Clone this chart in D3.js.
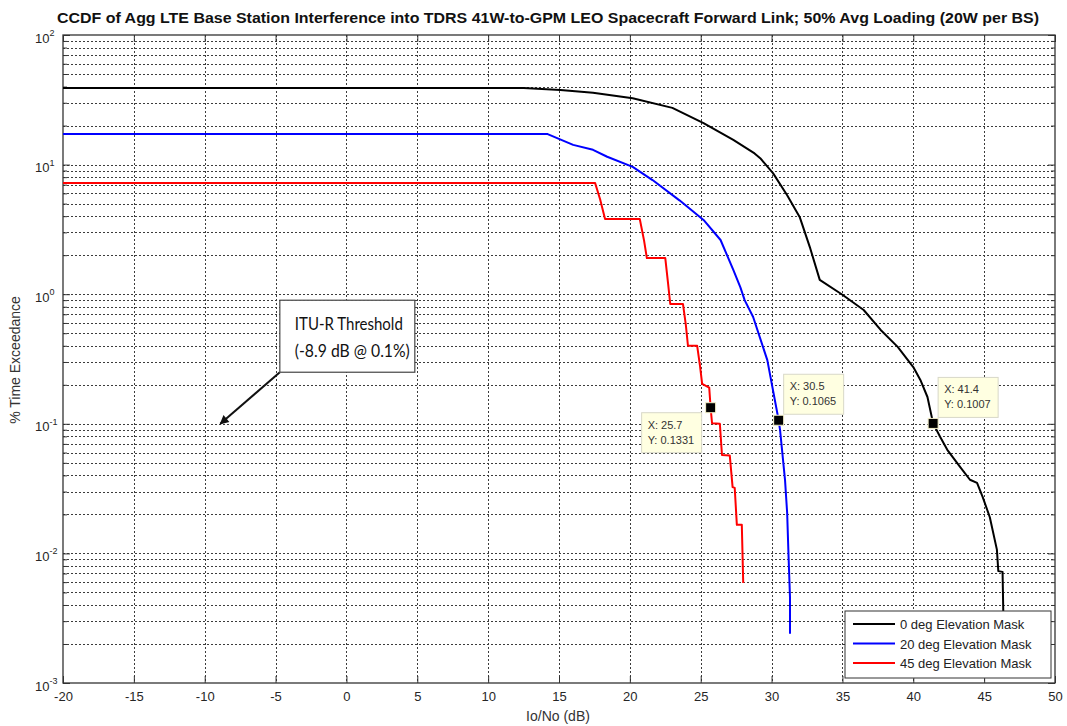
<!DOCTYPE html>
<html>
<head>
<meta charset="utf-8">
<script src="https://cdn.jsdelivr.net/npm/d3@7"></script>
<style>
  body { margin: 0; background: #fff; }
  text { font-family: "Liberation Sans", Arial, sans-serif; }
</style>
</head>
<body>
<svg id="chart" width="1067" height="726"></svg>
<script>
// --- data
const title = "CCDF of Agg LTE Base Station Interference into TDRS 41W-to-GPM LEO Spacecraft Forward Link; 50% Avg Loading (20W per BS)"
const xLabel = "Io/No (dB)"
const yLabel = "% Time Exceedance"
const xTicks = [-20, -15, -10, -5, 0, 5, 10, 15, 20, 25, 30, 35, 40, 45, 50]
const yDecades = [1e-3, 1e-2, 1e-1, 1, 10, 100]
const seriesNames = ["0 deg Elevation Mask", "20 deg Elevation Mask", "45 deg Elevation Mask"]
const seriesColors = ["#000000", "#0000ff", "#ff0000"]

const mask0 = [
  [-20, 39], [12.5, 39], [15.1, 37.7], [17.4, 35.9], [20.2, 32.5], [23.0, 27.4],
  [25.2, 20.9], [27.3, 15.5], [28.8, 12.2], [29.2, 11.2], [30.1, 8.6], [31.1, 5.8],
  [32.0, 3.9], [32.7, 2.31], [33.4, 1.29], [35.0, 0.99], [36.5, 0.755], [37.7, 0.53],
  [38.9, 0.392], [40.0, 0.274], [40.5, 0.218], [41.0, 0.161], [41.4, 0.1007],
  [41.9, 0.079], [42.4, 0.063], [43.3, 0.0465], [44.0, 0.037], [44.5, 0.035],
  [44.9, 0.0272], [45.4, 0.019], [45.9, 0.0107], [46.0, 0.0073], [46.3, 0.0072],
  [46.35, 0.0036], [46.4, 0.0025]
]
const mask20 = [
  [-20, 17.2], [14.2, 17.2], [16.0, 14.2], [17.4, 13.0], [18.4, 11.5], [20.2, 9.6],
  [21.6, 7.6], [23.5, 5.3], [25.2, 3.74], [26.4, 2.62], [27.3, 1.54], [27.8, 1.13],
  [28.1, 0.9], [28.7, 0.667], [29.7, 0.31], [30.5, 0.1065], [30.6, 0.0895],
  [30.95, 0.0368], [31.1, 0.0205], [31.2, 0.0094], [31.3, 0.0046], [31.3, 0.0024]
]
const mask45 = [
  [-20, 7.2], [17.55, 7.2], [17.9, 5.4], [18.25, 3.8], [20.7, 3.8], [21.0, 2.6],
  [21.2, 1.9], [22.5, 1.9], [22.7, 1.2], [22.85, 0.84], [23.75, 0.84], [23.95, 0.58],
  [24.1, 0.4], [24.75, 0.4], [24.95, 0.28], [25.1, 0.203], [25.6, 0.19], [25.7, 0.1331],
  [25.8, 0.101], [26.35, 0.1], [26.5, 0.0575], [27.05, 0.057], [27.25, 0.0325],
  [27.4, 0.032], [27.55, 0.0166], [27.9, 0.0166], [28.0, 0.0059]
]
const seriesData = [mask0, mask20, mask45]

// data tips (x, y) shown on the curves
const tipPoints = [[25.7, 0.1331], [30.5, 0.1065], [41.4, 0.1007]]

// ITU-R annotation: arrow tip and box corner in data units
const ituText = ["ITU-R Threshold", "(-8.9 dB @ 0.1%)"]
const ituTip = [-8.9, 0.1]
const ituBox = [-4.7, 0.25]

// --- layout
const plotLeft = 63, plotRight = 1055, plotTop = 35, plotBottom = 683

const svg = d3.select("#chart")

const x = d3.scaleLinear().domain([-20, 50]).range([plotLeft, plotRight])
const y = d3.scaleLog().domain([1e-3, 1e2]).range([plotBottom, plotTop])

// minor log values 2..9 in each decade
const yMinor = []
yDecades.slice(0, -1).forEach(d => {
  for (let k = 2; k <= 9; k++) yMinor.push(d * k)
})

// grid
const grid = svg.append("g").attr("stroke", "#3c3c3c").attr("stroke-width", 1)
  .attr("stroke-dasharray", "2,2")
grid.selectAll(".gx").data(xTicks.slice(1, -1)).enter().append("line")
  .attr("x1", d => Math.round(x(d)) + 0.5).attr("x2", d => Math.round(x(d)) + 0.5)
  .attr("y1", plotTop).attr("y2", plotBottom)
grid.selectAll(".gy").data(yDecades.slice(1, -1).concat(yMinor)).enter().append("line")
  .attr("x1", plotLeft).attr("x2", plotRight)
  .attr("y1", d => Math.round(y(d)) + 0.5).attr("y2", d => Math.round(y(d)) + 0.5)

// axes (ticks inward, like a boxed MATLAB plot)
const tickColor = "#262626"
function styleAxis(g) {
  g.select(".domain").remove()
  g.selectAll("line").attr("stroke", "#333")
  g.selectAll("text").attr("fill", tickColor).attr("font-size", "13px")
}

svg.append("g").attr("transform", `translate(0,${plotBottom})`)
  .call(d3.axisBottom(x).tickValues(xTicks).tickSize(-7).tickPadding(9).tickFormat(d => String(d)))
  .call(styleAxis)
svg.append("g").attr("transform", `translate(0,${plotTop})`)
  .call(d3.axisTop(x).tickValues(xTicks).tickSize(-7).tickFormat(""))
  .call(styleAxis)

const yLeft = svg.append("g").attr("transform", `translate(${plotLeft},0)`)
  .call(d3.axisLeft(y).tickValues(yDecades).tickSize(-7).tickPadding(28))
  .call(styleAxis)
yLeft.selectAll(".tick text").each(function (d) {
  const t = d3.select(this)
  t.text("10").attr("text-anchor", "start").attr("dy", "0.55em")
  t.append("tspan").attr("dy", "-0.75em").attr("font-size", "9px")
    .text(String(Math.round(Math.log10(d))))
})
svg.append("g").attr("transform", `translate(${plotLeft},0)`)
  .call(d3.axisLeft(y).tickValues(yMinor).tickSize(-4).tickFormat(""))
  .call(styleAxis)
svg.append("g").attr("transform", `translate(${plotRight},0)`)
  .call(d3.axisRight(y).tickValues(yDecades).tickSize(-7).tickFormat(""))
  .call(styleAxis)
svg.append("g").attr("transform", `translate(${plotRight},0)`)
  .call(d3.axisRight(y).tickValues(yMinor).tickSize(-4).tickFormat(""))
  .call(styleAxis)

// frame
svg.append("rect").attr("x", plotLeft).attr("y", plotTop)
  .attr("width", plotRight - plotLeft).attr("height", plotBottom - plotTop)
  .attr("fill", "none").attr("stroke", "#333").attr("stroke-width", 1.3)

// curves
svg.append("clipPath").attr("id", "plotClip").append("rect")
  .attr("x", plotLeft).attr("y", plotTop)
  .attr("width", plotRight - plotLeft).attr("height", plotBottom - plotTop)

const line = d3.line().x(d => x(d[0])).y(d => y(d[1]))
svg.append("g").attr("clip-path", "url(#plotClip)")
  .selectAll("path").data(seriesData).enter().append("path")
  .attr("d", line)
  .attr("fill", "none")
  .attr("stroke", (d, i) => seriesColors[i])
  .attr("stroke-width", 2)
  .attr("stroke-linejoin", "round")

// data tips
const tipBoxW = 60, tipBoxH = 40
tipPoints.forEach((p, i) => {
  const mx = x(p[0]), my = y(p[1])
  // first tip sits left-below the marker, the others right-above
  const bx = i === 0 ? mx - 9 - tipBoxW : mx + 5
  const by = i === 0 ? my + 5 : my - 6 - tipBoxH
  const g = svg.append("g")
  g.append("rect").attr("x", bx).attr("y", by).attr("width", tipBoxW).attr("height", tipBoxH)
    .attr("fill", "#ffffe1").attr("stroke", "#d8d8c8").attr("stroke-width", 1)
  g.append("text").attr("x", bx + 6).attr("y", by + 16)
    .attr("font-size", "11px").attr("fill", "#333").text(`X: ${p[0]}`)
  g.append("text").attr("x", bx + 6).attr("y", by + 31)
    .attr("font-size", "11px").attr("fill", "#333").text(`Y: ${p[1]}`)
  svg.append("rect").attr("x", mx - 5).attr("y", my - 5).attr("width", 10).attr("height", 10)
    .attr("fill", "#000").attr("stroke", "#f4f0c8").attr("stroke-width", 1)
})

// ITU-R annotation
svg.append("defs").append("marker")
  .attr("id", "arrowHead").attr("viewBox", "0 0 10 10")
  .attr("refX", 9).attr("refY", 5)
  .attr("markerWidth", 11).attr("markerHeight", 9)
  .attr("markerUnits", "userSpaceOnUse")
  .attr("orient", "auto")
  .append("path").attr("d", "M0,0 L10,5 L0,10 Z").attr("fill", "#111")

const boxX = x(ituBox[0]), boxBottom = y(ituBox[1])
svg.append("line")
  .attr("x1", boxX).attr("y1", boxBottom)
  .attr("x2", x(ituTip[0])).attr("y2", y(ituTip[1]))
  .attr("stroke", "#111").attr("stroke-width", 2)
  .attr("marker-end", "url(#arrowHead)")
svg.append("rect").attr("x", boxX).attr("y", boxBottom - 72)
  .attr("width", 135).attr("height", 72)
  .attr("fill", "#fff").attr("stroke", "#444").attr("stroke-width", 1.2)
const ituWidths = [108, 115]
ituText.forEach((t, i) => {
  svg.append("text").attr("x", boxX + 15).attr("y", boxBottom - 42 + i * 27)
    .style("font-family", "Lato, sans-serif")
    .attr("font-size", "17px").attr("fill", "#111")
    .attr("textLength", ituWidths[i]).attr("lengthAdjust", "spacingAndGlyphs")
    .text(t)
})

// legend
const lgX = 845, lgY = 611, lgW = 206, lgH = 67
const legend = svg.append("g")
legend.append("rect").attr("x", lgX).attr("y", lgY).attr("width", lgW).attr("height", lgH)
  .attr("fill", "#fff").attr("stroke", "#333").attr("stroke-width", 1)
seriesNames.forEach((name, i) => {
  const ly = lgY + 13 + i * 19.5
  legend.append("line").attr("x1", lgX + 8).attr("x2", lgX + 50)
    .attr("y1", ly).attr("y2", ly)
    .attr("stroke", seriesColors[i]).attr("stroke-width", 2)
  legend.append("text").attr("x", lgX + 55).attr("y", ly + 5)
    .attr("font-size", "13px").attr("fill", "#222").text(name)
})

// titles
svg.append("text").attr("x", 548).attr("y", 23)
  .attr("text-anchor", "middle").attr("font-size", "14px").attr("font-weight", "bold")
  .attr("fill", "#111")
  .attr("textLength", 982).attr("lengthAdjust", "spacingAndGlyphs")
  .text(title)
svg.append("text").attr("x", 558).attr("y", 721)
  .attr("text-anchor", "middle").attr("font-size", "14px").attr("fill", "#333")
  .text(xLabel)
svg.append("text").attr("transform", "translate(20,360) rotate(-90)")
  .attr("text-anchor", "middle").attr("font-size", "14px").attr("fill", "#333")
  .text(yLabel)
</script>
</body>
</html>
